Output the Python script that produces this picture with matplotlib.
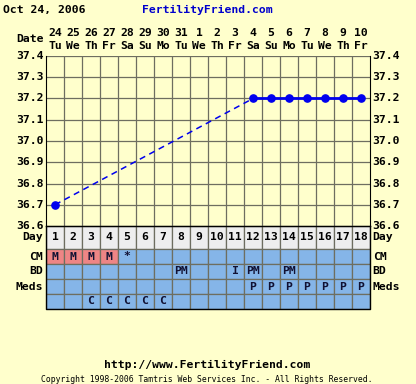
import matplotlib
matplotlib.use('Agg')
import matplotlib.pyplot as plt
import matplotlib.transforms as mtrans

# 数据
days = list(range(1, 19))
dates = ['24', '25', '26', '27', '28', '29', '30', '31', '1', '2', '3', '4', '5', '6', '7', '8', '9', '10']
weekdays = ['Tu', 'We', 'Th', 'Fr', 'Sa', 'Su', 'Mo', 'Tu', 'We', 'Th', 'Fr', 'Sa', 'Su', 'Mo', 'Tu', 'We', 'Th', 'Fr']
temp_days = [1, 12, 13, 14, 15, 16, 17, 18]
temps = [36.7, 37.2, 37.2, 37.2, 37.2, 37.2, 37.2, 37.2]
cm = ['M', 'M', 'M', 'M', '*', '', '', '', '', '', '', '', '', '', '', '', '', '']
bd = ['', '', '', '', '', '', '', 'PM', '', '', 'I', 'PM', '', 'PM', '', '', '', '']
meds = ['', '', '', '', '', '', '', '', '', '', '', 'P', 'P', 'P', 'P', 'P', 'P', 'P']
extra = ['', '', 'C', 'C', 'C', 'C', 'C', '', '', '', '', '', '', '', '', '', '', '']
yticks = [36.6, 36.7, 36.8, 36.9, 37.0, 37.1, 37.2, 37.3, 37.4]

bg = '#FFFFCC'
gridc = '#6E6E60'
blue_row = '#85B5E8'
red_cell = '#EE8585'
fnt = dict(family='DejaVu Sans Mono', fontweight='bold', fontsize=8.2)

W, H = 416, 384
fig = plt.figure(figsize=(W / 100, H / 100), dpi=100, facecolor=bg)

def box(x0, y0, x1, y1):
    return [x0 / W, 1 - y1 / H, (x1 - x0) / W, (y1 - y0) / H]

# 体温图
ax = fig.add_axes(box(46, 56, 370, 226))
ax.set_facecolor(bg)
ax.set_xlim(0.5, 18.5)
ax.set_ylim(36.6, 37.4)
for d in range(1, 18):
    ax.axvline(d + 0.5, color=gridc, lw=0.9)
for t in yticks:
    ax.axhline(t, color=gridc, lw=0.9)
for s in ax.spines.values():
    s.set_visible(False)
ax.spines['left'].set_visible(True)
ax.spines['left'].set_color('black')
ax.spines['right'].set_visible(True)
ax.spines['right'].set_color('black')
ax.set_xticks([])
ax.set_yticks([])
for t in yticks:
    ax.text(0.5 - 0.15, t, f'{t:.1f}', ha='right', va='center', color='black', **fnt)
    ax.text(18.5 + 0.15, t, f'{t:.1f}', ha='left', va='center', color='black', **fnt)

# 缺失数据部分用虚线连接
ax.plot(temp_days[:2], temps[:2], color='#0000EE', lw=1.1, ls=(0, (4, 3)), zorder=3)
ax.plot(temp_days[1:], temps[1:], color='#0000EE', lw=2, zorder=3)
ax.plot(temp_days, temps, 'o', color='#0000EE', ms=5.2, zorder=4)

# 日期表头
tr = mtrans.blended_transform_factory(ax.transData, ax.transAxes)
for d, dt, wd in zip(days, dates, weekdays):
    ax.text(d, 1 + 23 / 170, dt, transform=tr, ha='center', va='center', **fnt)
    ax.text(d, 1 + 10 / 170, wd, transform=tr, ha='center', va='center', **fnt)
ax.text(0.5 - 0.15, 1 + 17 / 170, 'Date', transform=tr, ha='right', va='center', **fnt)

# 下方表格
tax = fig.add_axes(box(46, 226, 370, 309))
tax.set_xlim(0.5, 18.5)
tax.set_ylim(83, 0)
tax.axis('off')
rows = [(0, 23), (23, 38), (38, 53), (53, 68), (68, 83)]
labels = ['Day', 'CM', 'BD', 'Meds', '']
values = [[str(d) for d in days], cm, bd, meds, extra]
for i, ((y0, y1), lab, vals) in enumerate(zip(rows, labels, values)):
    for d, v in zip(days, vals):
        if i == 0:
            fc = '#EEEEEE'
        elif i == 1 and v == 'M':
            fc = red_cell
        else:
            fc = blue_row
        tax.add_patch(plt.Rectangle((d - 0.5, y0), 1, y1 - y0, facecolor=fc,
                                    edgecolor=gridc, lw=0.9))
        if v:
            tax.text(d, (y0 + y1) / 2, v, ha='center', va='center',
                     color='black' if i == 0 else '#111133', **fnt)
    if lab:
        tax.text(0.5 - 0.15, (y0 + y1) / 2, lab, ha='right', va='center', **fnt)
        tax.text(18.5 + 0.15, (y0 + y1) / 2, lab, ha='left', va='center', **fnt)
tax.plot([0.5, 18.5], [0, 0], color='black', lw=1, clip_on=False)
tax.plot([0.5, 0.5, 18.5, 18.5], [0, 83, 83, 0], color='black', lw=1, clip_on=False)

# 标题文字
fig.text(3 / W, 1 - 10 / H, 'Oct 24, 2006', ha='left', va='center', **fnt)
fig.text(207 / W, 1 - 10 / H, 'FertilityFriend.com', ha='center', va='center',
         color='#0000CC', **fnt)
fig.text(207 / W, 1 - 365 / H, 'http://www.FertilityFriend.com', ha='center', va='center', **fnt)
fig.text(207 / W, 1 - 380 / H, 'Copyright 1998-2006 Tamtris Web Services Inc. - All Rights Reserved.',
         ha='center', va='center', family='DejaVu Sans Mono', fontsize=5.9)

fig.savefig('out.png', dpi=100, facecolor=bg)
